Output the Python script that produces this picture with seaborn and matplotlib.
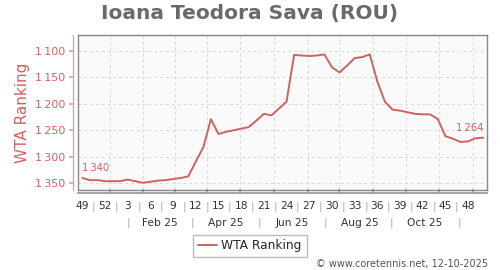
import matplotlib
matplotlib.use("Agg")
import matplotlib.pyplot as plt
import seaborn as sns
import pandas as pd
import numpy as np

# ---- data ----
rankings = [1340, 1344, 1344, 1346, 1346, 1346, 1343, 1346, 1349, 1347,
            1345, 1344, 1342, 1340, 1337, 1309, 1282, 1229, 1257, 1253,
            1250, 1247, 1244, 1232, 1219, 1222, 1209, 1196, 1108, 1109,
            1110, 1109, 1107, 1131, 1141, 1128, 1114, 1112, 1107, 1158,
            1196, 1211, 1213, 1216, 1219, 1220, 1220, 1229, 1261, 1266,
            1272, 1271, 1265, 1264]
week_labels = ["49", "52", "3", "6", "9", "12", "15", "18", "21", "24",
               "27", "30", "33", "36", "39", "42", "45", "48"]
month_labels = ["Feb 25", "Apr 25", "Jun 25", "Aug 25", "Oct 25"]
y_ticks = [1100, 1150, 1200, 1250, 1300, 1350]
series_name = "WTA Ranking"
title = "Ioana Teodora Sava (ROU)"
credit = "\u00a9 www.coretennis.net, 12-10-2025"

# positions (in week-index units)
week_pos = [3 * i for i in range(len(week_labels))]
month_label_pos = [10.3, 19.0, 27.8, 36.7, 45.3]
month_sep_pos = [6.1, 14.6, 23.4, 32.1, 40.9, 49.8]
month_tick_pos = [3.7, 8.0, 12.3, 16.5, 20.9, 25.3, 29.8, 33.9, 38.4, 42.8, 47.2, 51.7]

df = pd.DataFrame({"week": np.arange(len(rankings)), series_name: rankings})

sns.set_theme(style="white")
plt.rcParams["font.family"] = ["DejaVu Sans"]

RED = "#cd6262"
PINK = "#dca4a4"
fig = plt.figure(figsize=(5, 2.7), dpi=100)
ax = fig.add_axes([78 / 500, 1 - 190 / 270, 409 / 500, 155 / 270])
ax.set_facecolor("#fafafa")

sns.lineplot(data=df, x="week", y=series_name, ax=ax, color=RED, linewidth=1.4,
             label=series_name, legend=False)

ax.set_xlim(-0.57, 53.5)
ax.set_ylim(1362.6, 1070.4)

# grid
for xp in month_tick_pos:
    ax.axvline(xp, color="#d8d8d8", linestyle=(0, (3, 3)), linewidth=0.7, zorder=0)
for yp in y_ticks:
    ax.axhline(yp, color="#d8d8d8", linestyle=(0, (3, 3)), linewidth=0.7, zorder=0)

for s in ax.spines.values():
    s.set_color("#888888")
    s.set_linewidth(1.0)
    s.set_visible(True)

def fmt(v):
    return f"{v // 1000}\u2009{v % 1000:03d}"

# y axis line (offset) with tick marks
secy = ax.secondary_yaxis(-5 / 409)
secy.spines["left"].set_color(PINK)
secy.spines["left"].set_linewidth(1.0)
secy.set_yticks(y_ticks)
secy.set_yticklabels([fmt(v) for v in y_ticks])
secy.tick_params(axis="y", direction="out", length=3, color=PINK, pad=2.5,
                 labelsize=8, labelcolor=RED)

ax.set_yticks(y_ticks)
ax.set_yticklabels([])
ax.tick_params(axis="y", length=0)
ax.set_ylabel(series_name, color=RED, fontsize=11)
ax.yaxis.set_label_coords(-48 / 409, 0.5)

# x: week labels with separators (major), months (minor)
maj_pos, maj_lab = [], []
for i, (p, l) in enumerate(zip(week_pos, week_labels)):
    maj_pos.append(p)
    maj_lab.append(l)
    if i < len(week_pos) - 1:
        maj_pos.append(p + 1.5)
        maj_lab.append("|")
ax.set_xticks(maj_pos)
ax.set_xticklabels(maj_lab)
for t in ax.get_xticklabels():
    t.set_color("#aaaaaa" if t.get_text() == "|" else "#333333")
ax.tick_params(axis="x", which="major", length=0, pad=8, labelsize=7.7)

min_pos = sorted(month_label_pos + month_sep_pos)
min_lab = []
for p in min_pos:
    if p in month_label_pos:
        min_lab.append(month_labels[month_label_pos.index(p)])
    else:
        min_lab.append("|")
ax.set_xticks(min_pos, minor=True)
ax.set_xticklabels(min_lab, minor=True)
for t in ax.get_xticklabels(minor=True):
    t.set_color("#aaaaaa" if t.get_text() == "|" else "#333333")
ax.tick_params(axis="x", which="minor", length=0, pad=20, labelsize=7.7)
ax.set_xlabel("")

# x axis line with monthly tick marks
secx = ax.secondary_xaxis(-3 / 155)
secx.spines["bottom"].set_color("#999999")
secx.set_xticks(month_tick_pos)
secx.set_xticklabels([])
secx.tick_params(axis="x", direction="in", length=3, color="#999999")

# end labels
ax.annotate(fmt(rankings[0]), (0, rankings[0]),
            xytext=(0, 3.5), textcoords="offset points", ha="left", va="bottom",
            color=RED, fontsize=7.2)
ax.annotate(fmt(rankings[-1]), (len(rankings) - 1, rankings[-1]),
            xytext=(0, 3.5), textcoords="offset points", ha="right", va="bottom",
            color=RED, fontsize=7.2)

fig.text(0.5, 1 - 14 / 270, title, ha="center", va="center", fontsize=14.5,
         fontweight="bold", color="#6a6a6a")

handles, labels = ax.get_legend_handles_labels()
fig.legend(handles, labels, loc="center", bbox_to_anchor=(0.5, 1 - 246 / 270),
           frameon=True, fancybox=False, edgecolor="#aaaaaa", fontsize=8.8,
           handlelength=1.5, handletextpad=0.4, borderpad=0.4)

fig.text(488 / 500, 1 - 264 / 270, credit, ha="right", va="center", fontsize=7,
         color="#555555")

fig.savefig("out.png", dpi=100)
